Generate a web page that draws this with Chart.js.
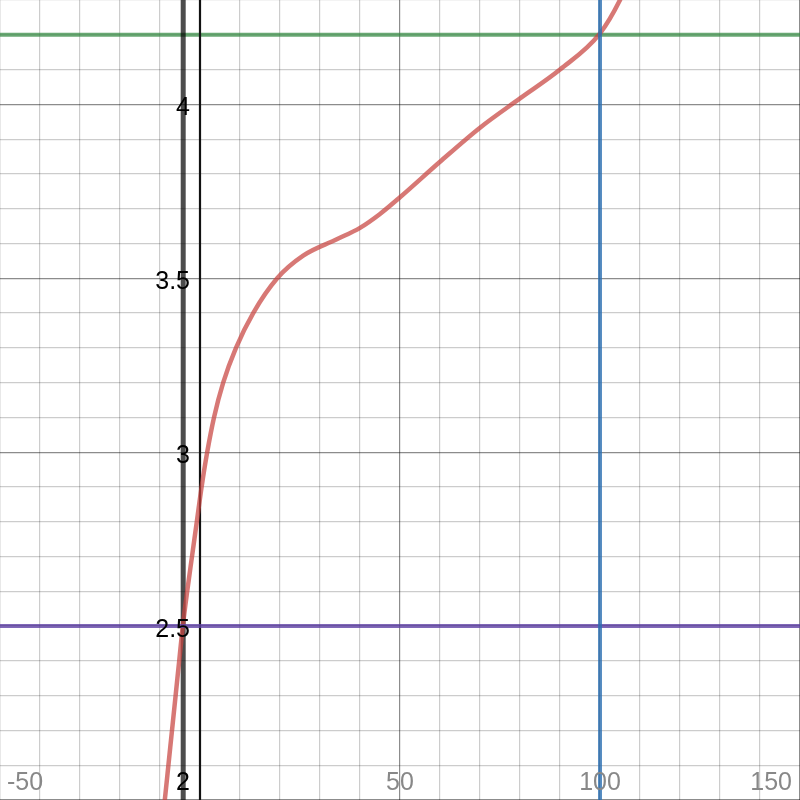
<!DOCTYPE html>
<html>
<head>
<meta charset="utf-8">
<script src="https://cdn.jsdelivr.net/npm/chart.js@4/dist/chart.umd.min.js"></script>
<style>
html,body{margin:0;padding:0;background:#fff;}
#c{display:block;}
</style>
</head>
<body>
<canvas id="c" width="800" height="800"></canvas>
<script>
// ---- data ----
const curveX = [-9.3, -8.8, -7.9, -7.0, -6.1, -5.2, -4.3, -3.2, -2.0, -0.8, 0.4, 1.8, 3.5, 5.8, 9.0, 13.3, 19.3, 25.8, 34.2, 40, 45, 50, 60, 70, 80, 90, 100, 105, 106.5];
const curveY = [1.95, 2.0, 2.1, 2.2, 2.3, 2.4, 2.5, 2.6, 2.7, 2.8, 2.9, 3.0, 3.1, 3.2, 3.3, 3.4, 3.5, 3.565, 3.612, 3.645, 3.685, 3.733, 3.835, 3.933, 4.017, 4.1, 4.204, 4.3, 4.34];
const hLineGreen = 4.2;
const hLinePurple = 2.5;
const vLineBlue = 100;
const vLineDark = -4.2;
const yAxisX = 0;
const xRange = [-50, 150];
const yRange = [2, 4.3];
const xTickLabels = ['-50', '50', '100', '150'];
const xTickValues = [-50, 50, 100, 150];
const yTickLabels = ['2', '2.5', '3', '3.5', '4'];
const yTickValues = [2, 2.5, 3, 3.5, 4];

const curve = curveX.map((x, i) => ({x: x, y: curveY[i]}));
const vline = v => [{x: v, y: yRange[0] - 1}, {x: v, y: yRange[1] + 1}];
const hline = v => [{x: xRange[0] - 10, y: v}, {x: xRange[1] + 10, y: v}];

const labelPlugin = {
  id: 'labels',
  afterDraw(chart) {
    const ctx = chart.ctx;
    const xs = chart.scales.x, ys = chart.scales.y;
    ctx.save();
    ctx.font = '25px "Liberation Sans", Arial, sans-serif';
    ctx.fillStyle = '#888888';
    ctx.textBaseline = 'alphabetic';
    xTickLabels.forEach((t, i) => {
      const w = ctx.measureText(t).width;
      let cx = xs.getPixelForValue(xTickValues[i]);
      let left = cx - w / 2;
      if (left < 7) left = 7;
      if (left + w > 792) left = 792 - w;
      ctx.textAlign = 'left';
      ctx.fillText(t, left, 790);
    });
    ctx.fillStyle = '#000000';
    const ax = xs.getPixelForValue(yAxisX);
    yTickLabels.forEach((t, i) => {
      let py = ys.getPixelForValue(yTickValues[i]) + 2;
      let base = py + 9;
      if (base > 790) base = 790;
      ctx.textAlign = 'right';
      ctx.fillText(t, ax - 10, base);
    });
    ctx.restore();
  }
};

const isMajorX = v => Math.abs(v / 50 - Math.round(v / 50)) < 1e-6;
const isMajorY = v => Math.abs(v * 2 - Math.round(v * 2)) < 1e-6;

new Chart(document.getElementById('c'), {
  type: 'line',
  data: {
    datasets: [
      {data: hline(hLineGreen), borderColor: 'rgba(56,140,70,0.75)', borderWidth: 4, pointRadius: 0, order: 6},
      {data: vline(yAxisX), borderColor: '#111111', borderWidth: 2.2, pointRadius: 0, order: 5},
      {data: vline(vLineDark), borderColor: 'rgba(0,0,0,0.7)', borderWidth: 5, pointRadius: 0, order: 4},
      {data: curve, borderColor: 'rgba(199,68,64,0.72)', borderWidth: 4.5, pointRadius: 0, cubicInterpolationMode: 'monotone', order: 3},
      {data: hline(hLinePurple), borderColor: 'rgba(96,66,166,0.8)', borderWidth: 4, pointRadius: 0, order: 2},
      {data: vline(vLineBlue), borderColor: 'rgba(45,112,179,0.8)', borderWidth: 4, pointRadius: 0, order: 1}
    ]
  },
  options: {
    responsive: false,
    animation: false,
    layout: {padding: 0},
    plugins: {legend: {display: false}, tooltip: {enabled: false}},
    scales: {
      x: {
        type: 'linear', min: xRange[0], max: xRange[1],
        ticks: {display: false, stepSize: 10},
        border: {display: false},
        grid: {drawTicks: false, lineWidth: 1.2,
          color: c => isMajorX(c.tick.value) ? 'rgba(0,0,0,0.45)' : 'rgba(0,0,0,0.2)'}
      },
      y: {
        type: 'linear', min: yRange[0], max: yRange[1],
        ticks: {display: false, stepSize: 0.1},
        border: {display: false},
        grid: {drawTicks: false, lineWidth: 1.2,
          color: c => isMajorY(c.tick.value) ? 'rgba(0,0,0,0.45)' : 'rgba(0,0,0,0.2)'}
      }
    }
  },
  plugins: [labelPlugin]
});
</script>
</body>
</html>
